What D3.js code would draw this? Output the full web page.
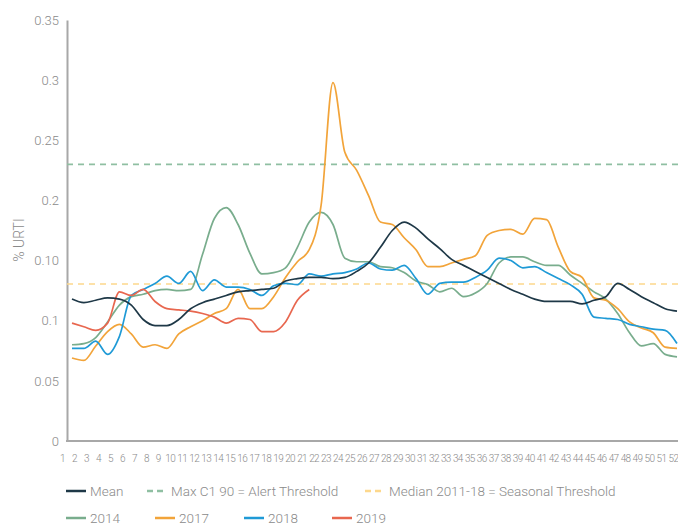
<!DOCTYPE html>
<html>
<head>
<meta charset="utf-8">
<style>
  body { margin: 0; background: #fff; }
  svg text { font-family: Roboto, "Liberation Sans", sans-serif; font-weight: 300; fill: #8a8a8a; }
</style>
</head>
<body>
<svg width="678" height="526"></svg>
<script src="https://cdn.jsdelivr.net/npm/d3@7/dist/d3.min.js"></script>
<script>

var weeks = d3.range(1, 53);

// y tick labels as printed on the original chart
var yTickValues = [0, 0.05, 0.1, 0.15, 0.2, 0.25, 0.3, 0.35];
var yTickLabels = ["0", "0.05", "0.1", "0.10", "0.2", "0.25", "0.3", "0.35"];

var alertThreshold = 0.230;
var seasonalThreshold = 0.1305;

var mean = [0.118, 0.115, 0.117, 0.119, 0.118, 0.113, 0.101, 0.096, 0.096, 0.101,
            0.110, 0.115, 0.118, 0.121, 0.124, 0.125, 0.126, 0.127, 0.133, 0.135,
            0.136, 0.136, 0.135, 0.136, 0.141, 0.148, 0.161, 0.175, 0.182, 0.177,
            0.168, 0.160, 0.151, 0.146, 0.141, 0.136, 0.131, 0.126, 0.122, 0.118,
            0.116, 0.116, 0.116, 0.114, 0.117, 0.120, 0.131, 0.126, 0.120, 0.115,
            0.110, 0.108];

var y2014 = [0.080, 0.081, 0.086, 0.099, 0.113, 0.120, 0.122, 0.125, 0.126, 0.125,
             0.126, 0.155, 0.185, 0.194, 0.180, 0.156, 0.139, 0.140, 0.144, 0.161,
             0.182, 0.190, 0.180, 0.152, 0.149, 0.149, 0.145, 0.144, 0.140, 0.133,
             0.130, 0.124, 0.127, 0.120, 0.123, 0.131, 0.148, 0.153, 0.153, 0.149,
             0.146, 0.146, 0.138, 0.131, 0.124, 0.118, 0.106, 0.090, 0.079, 0.081,
             0.072, 0.070];

var y2017 = [0.069, 0.067, 0.079, 0.091, 0.097, 0.089, 0.078, 0.080, 0.077, 0.089,
             0.095, 0.100, 0.106, 0.110, 0.126, 0.110, 0.110, 0.120, 0.136, 0.149,
             0.159, 0.196, 0.298, 0.240, 0.225, 0.204, 0.182, 0.180, 0.169, 0.159,
             0.145, 0.145, 0.148, 0.151, 0.154, 0.171, 0.175, 0.176, 0.172, 0.185,
             0.184, 0.161, 0.141, 0.136, 0.119, 0.117, 0.110, 0.099, 0.094, 0.090,
             0.078, 0.077];

var y2018 = [0.077, 0.077, 0.083, 0.072, 0.087, 0.121, 0.126, 0.131, 0.137, 0.131,
             0.141, 0.125, 0.134, 0.128, 0.128, 0.126, 0.121, 0.129, 0.131, 0.130,
             0.139, 0.137, 0.139, 0.140, 0.143, 0.148, 0.143, 0.142, 0.146, 0.135,
             0.122, 0.131, 0.132, 0.132, 0.136, 0.142, 0.152, 0.150, 0.144, 0.145,
             0.140, 0.135, 0.130, 0.122, 0.103, 0.102, 0.101, 0.097, 0.095, 0.093,
             0.092, 0.081];

var y2019 = [0.098, 0.095, 0.092, 0.098, 0.124, 0.121, 0.126, 0.116, 0.110, 0.109,
             0.108, 0.106, 0.103, 0.098, 0.102, 0.101, 0.091, 0.091, 0.099, 0.117,
             0.126];

var series = [
  {name: "2014", values: y2014, color: "#79ad8d"},
  {name: "2017", values: y2017, color: "#f2a43a"},
  {name: "2018", values: y2018, color: "#1f9ad6"},
  {name: "2019", values: y2019, color: "#e8674f"},
  {name: "Mean", values: mean, color: "#1e3847"}
];

var svg = d3.select("svg");

var x = d3.scaleLinear().domain([1, 52]).range([72, 677]);
var xLabel = d3.scaleLinear().domain([1, 52]).range([62, 673]);
var y = d3.scaleLinear().domain([0, 0.35]).range([441, 20]);

// y axis
svg.append("g")
    .attr("transform", "translate(67,0)")
    .call(d3.axisLeft(y).tickValues(yTickValues).tickSize(0).tickPadding(8)
        .tickFormat(function(d, i) { return yTickLabels[i]; }))
    .call(function(g) {
      g.select(".domain").attr("stroke", "#a8a8a8").attr("stroke-width", 2);
      g.selectAll("text").attr("font-size", 13).attr("fill", "#8a8a8a");
    });

// x axis line
svg.append("g")
    .attr("transform", "translate(0,441)")
    .call(d3.axisBottom(x).tickValues([]).tickSize(0))
    .call(function(g) {
      g.select(".domain").attr("d", "M66,0H678").attr("stroke", "#a8a8a8").attr("stroke-width", 2);
    });

// x tick labels
svg.append("g")
    .attr("transform", "translate(0,452)")
    .call(d3.axisBottom(xLabel).tickValues(weeks).tickSize(0).tickFormat(d3.format("d")))
    .call(function(g) {
      g.select(".domain").remove();
      g.selectAll("text").attr("font-size", 10).attr("letter-spacing", "-0.6px").attr("fill", "#8a8a8a");
    });

svg.append("text")
    .attr("transform", "translate(24,240) rotate(-90)")
    .attr("text-anchor", "middle")
    .attr("font-size", 14)
    .text("% URTI");

// thresholds
svg.append("line")
    .attr("x1", 67).attr("x2", 678)
    .attr("y1", y(alertThreshold)).attr("y2", y(alertThreshold))
    .attr("stroke", "#8fbfa2").attr("stroke-width", 1.6).attr("stroke-dasharray", "6,5");

svg.append("line")
    .attr("x1", 67).attr("x2", 678)
    .attr("y1", y(seasonalThreshold)).attr("y2", y(seasonalThreshold))
    .attr("stroke", "#fdd88c").attr("stroke-width", 1.6).attr("stroke-dasharray", "6,5");

var line = d3.line()
    .x(function(d, i) { return x(weeks[i]); })
    .y(function(d) { return y(d); })
    .curve(d3.curveMonotoneX);

svg.selectAll(".series")
    .data(series)
    .enter().append("path")
    .attr("class", "series")
    .attr("fill", "none")
    .attr("stroke", function(d) { return d.color; })
    .attr("stroke-width", 1.7)
    .attr("stroke-linejoin", "round")
    .attr("d", function(d) { return line(d.values); });

// legend
var legend1 = [
  {label: "Mean", color: "#1e3847", dash: null, x: 66},
  {label: "Max C1 90 = Alert Threshold", color: "#8fbfa2", dash: "6,4", x: 147},
  {label: "Median 2011-18 = Seasonal Threshold", color: "#fdd88c", dash: "6,4", x: 365}
];
var legend2 = [
  {label: "2014", color: "#79ad8d", x: 66},
  {label: "2017", color: "#f2a43a", x: 155},
  {label: "2018", color: "#1f9ad6", x: 244},
  {label: "2019", color: "#e8674f", x: 332}
];

function drawLegend(items, yy) {
  var g = svg.append("g").selectAll("g").data(items).enter().append("g")
      .attr("transform", function(d) { return "translate(" + d.x + "," + yy + ")"; });
  g.append("line")
      .attr("x1", 0).attr("x2", 20)
      .attr("stroke", function(d) { return d.color; })
      .attr("stroke-width", 2.5)
      .attr("stroke-dasharray", function(d) { return d.dash; });
  g.append("text")
      .attr("x", 24)
      .attr("dy", "0.35em")
      .attr("font-size", 13.5)
      .text(function(d) { return d.label; });
}
drawLegend(legend1, 491);
drawLegend(legend2, 518);

</script>
</body>
</html>
